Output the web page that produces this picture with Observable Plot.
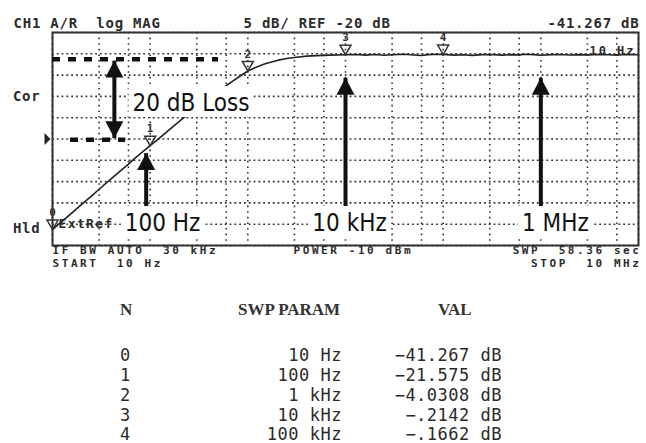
<!DOCTYPE html>
<html><head><meta charset="utf-8">
<script src="https://cdn.jsdelivr.net/npm/d3@7"></script>
<script src="https://cdn.jsdelivr.net/npm/@observablehq/plot@0.6"></script>
<style>
body{margin:0;background:#fff;width:646px;height:443px;overflow:hidden;}
#table{position:relative;width:646px;height:165px;color:#2a2a2a;}
#table span{position:absolute;line-height:20px;white-space:pre;}
#table .hdr{font-family:"Liberation Serif";font-weight:bold;font-size:17px;color:#333;}
#table .row{font-family:"DejaVu Sans Mono";font-size:17px;letter-spacing:0.5px;}
</style></head><body>
<div id="chart"></div>
<div id="table"></div>
<script>
// ---- trace ----
const traceFreq = [10,12,15,20,25,30,40,50,60,70,80,100,120,150,200,250,300,400,500,600,700,800,1000,1200,1500,2000,2500,3000,4000,5000,7000,10000,
  13000,16000,20000,25000,30000,40000,50000,60000,70000,85000,100000,130000,160000,200000,250000,300000,400000,500000,600000,700000,850000,
  1e6,1.3e6,1.6e6,2e6,2.5e6,3e6,4e6,5e6,6e6,7e6,8.5e6,1e7];
const traceDb = [-41.27,-39.7,-37.8,-35.3,-33.4,-31.8,-29.3,-27.4,-25.9,-24.5,-23.4,-21.58,-20.1,-18.2,-15.8,-14.0,-12.6,-10.3,-8.7,-7.5,-6.4,-5.5,-4.03,-3.2,-2.35,-1.55,-1.1,-0.85,-0.55,-0.42,-0.3,-0.21,
  -0.18,-0.30,-0.15,-0.35,-0.22,-0.12,-0.28,-0.40,-0.20,-0.10,-0.17,-0.30,-0.22,-0.38,-0.20,-0.15,-0.32,-0.20,-0.25,-0.10,-0.20,
  -0.35,-0.20,-0.15,-0.28,-0.20,-0.25,-0.15,-0.22,-0.30,-0.18,-0.20,-0.22];

// ---- markers ----
const markerN = ["0","1","2","3","4"];
const markerFreq = [10,100,1000,10000,100000];
const markerVal = [-41.267,-21.575,-4.0308,-0.2142,-0.1662];
const markerParam = ["10 Hz","100 Hz","1 kHz","10 kHz","100 kHz"];
const markerValText = ["\u221241.267 dB","\u221221.575 dB","\u22124.0308 dB","\u2212.2142 dB","\u2212.1662 dB"];

// ---- grid ----
const gridFreqs = [10,30,60,100,300,600,1e3,3e3,6e3,1e4,3e4,6e4,1e5,3e5,6e5,1e6,3e6,6e6,1e7];
const gridDb = [-45,-40,-35,-30,-25,-20,-15,-10,-5,0,5];
const refLevel = -20;

// ---- annotations (data units) ----
const dashF1 = [10, 15.3], dashF2 = [501, 56], dashDb = [-1.3, -20.2];
const lossF = 43, lossTop = -1.6, lossBottom = -19.8;
const lossLabel = "20 dB Loss", lossLabelF = 262, lossLabelDb = -11.6;
const arrowF = [91, 1e4, 1e6];
const arrowTip = [-23.3, -5.6, -5.6];
const arrowBase = -37;
const arrowLabels = ["100 Hz", "10 kHz", "1 MHz"];
const arrowLabelF = [134, 1.1e4, 1.41e6];
const arrowLabelDb = -39.8;

// ---- instrument texts ----
const headerLeft = "CH1 A/R  log MAG", headerMid = "5 dB/ REF -20 dB", headerRight = "-41.267 dB";
const stimText = "10 Hz";
const foot1 = ["IF BW AUTO  30 kHz", "POWER -10 dBm", "SWP  58.36 sec"];
const foot2 = ["START  10 Hz", "STOP  10 MHz"];
const sideTexts = ["Cor", "Hld", "ExtRef"];
const tableHead = ["N", "SWP PARAM", "VAL"];

const trace = traceFreq.map((f,i)=>({f, db: traceDb[i]}));
const markers = markerN.map((n,i)=>({n, f: markerFreq[i], v: markerVal[i]}));
const dashes = dashDb.map((d,i)=>({f1: dashF1[i], f2: dashF2[i], db: d}));
const arrows = arrowF.map((f,i)=>({f, tip: arrowTip[i], label: arrowLabels[i], lf: arrowLabelF[i]}));

const nb = s => s.replace(/ /g, "\u00a0");
const inst = {fontFamily:"DejaVu Sans Mono", fontWeight:"bold", fontSize:14, fill:"#2b2b2b"};
const T = (str, opts) => Plot.text([nb(str)], {text: d=>d, ...inst, ...opts});
const annFont = {fontFamily:"'DejaVu Sans Condensed', 'DejaVu Sans', sans-serif", fontSize:24, fill:"#111"};

const headUp = {draw(c){c.moveTo(0,0);c.lineTo(9,17);c.lineTo(-9,17);c.closePath();}};
const headDown = {draw(c){c.moveTo(0,0);c.lineTo(9,-17);c.lineTo(-9,-17);c.closePath();}};
const markTri = {draw(c){c.moveTo(0,0);c.lineTo(5.5,-9.5);c.lineTo(-5.5,-9.5);c.closePath();}};
const refTri = {draw(c){c.moveTo(0,0);c.lineTo(-6,-6);c.lineTo(-6,6);c.closePath();}};

const chart = Plot.plot({
  width: 646, height: 278,
  marginTop: 32, marginLeft: 52, marginRight: 8, marginBottom: 33,
  style: {background: "white", overflow: "visible"},
  x: {type: "log", domain: [10, 1e7], axis: null},
  y: {domain: [-45, 5], axis: null},
  marks: [
    Plot.ruleX(gridFreqs, {stroke:"#333", strokeWidth:1.6, strokeDasharray:"1.6,4"}),
    Plot.ruleY(gridDb, {stroke:"#333", strokeWidth:1.6, strokeDasharray:"1.8,3"}),
    Plot.line(trace, {x:"f", y:"db", stroke:"#222", strokeWidth:1.6}),
    Plot.dot(markers, {x:"f", y:"v", symbol: markTri, fill:"none", stroke:"#333", strokeWidth:1.5, r:5}),
    Plot.text(markers, {x:"f", y:"v", text:"n", dy:-17, fontFamily:"DejaVu Sans Mono", fontWeight:"bold", fontSize:11, fill:"#333"}),
    Plot.frame({stroke:"#333", strokeWidth:2}),
    Plot.dot([refLevel], {x: ()=>10, y: d=>d, dx:-2, symbol: refTri, fill:"#222", stroke:"none", r:5}),
    // annotations
    Plot.ruleY(dashes, {y:"db", x1:"f1", x2:"f2", stroke:"#111", strokeWidth:4.5, strokeDasharray:"8,8"}),
    Plot.link([0], {x1: ()=>lossF, x2: ()=>lossF, y1: ()=>lossTop, y2: ()=>lossBottom, stroke:"#111", strokeWidth:4}),
    Plot.dot([lossTop], {x: ()=>lossF, y: d=>d, symbol: headUp, fill:"#111", stroke:"none", r:5}),
    Plot.dot([lossBottom], {x: ()=>lossF, y: d=>d, symbol: headDown, fill:"#111", stroke:"none", r:5}),
    Plot.link(arrows, {x1:"f", x2:"f", y1: ()=>arrowBase, y2:"tip", stroke:"#111", strokeWidth:4}),
    Plot.dot(arrows, {x:"f", y:"tip", symbol: headUp, fill:"#111", stroke:"none", r:5}),
    Plot.text([lossLabel], {x: ()=>lossLabelF, y: ()=>lossLabelDb, text: d=>d, ...annFont}),
    Plot.text(arrows, {x:"lf", y: ()=>arrowLabelDb, text:"label", ...annFont}),
    // instrument texts
    T(headerLeft, {frameAnchor:"top-left", dx:-39, dy:-14, textAnchor:"start"}),
    T(headerMid, {frameAnchor:"top-left", dx:191, dy:-14, textAnchor:"start"}),
    T(headerRight, {frameAnchor:"top-right", dx:1, dy:-14, textAnchor:"end"}),
    T(stimText, {frameAnchor:"top-right", dx:-3, dy:14, textAnchor:"end", fontSize:12}),
    T(foot1[0], {frameAnchor:"bottom-left", dx:0, dy:8, textAnchor:"start", fontSize:11}),
    T(foot1[1], {frameAnchor:"bottom-left", dx:241, dy:8, textAnchor:"start", fontSize:11}),
    T(foot1[2], {frameAnchor:"bottom-right", dx:3, dy:8, textAnchor:"end", fontSize:11}),
    T(foot2[0], {frameAnchor:"bottom-left", dx:0, dy:21, textAnchor:"start", fontSize:11}),
    T(foot2[1], {frameAnchor:"bottom-right", dx:3, dy:21, textAnchor:"end", fontSize:11}),
    Plot.text([sideTexts[0]], {y: ()=>-10, text: d=>d, frameAnchor:"left", dx:-12, textAnchor:"end", ...inst}),
    T(sideTexts[1], {frameAnchor:"bottom-left", dx:-12, dy:-13, textAnchor:"end"}),
    T(sideTexts[2], {frameAnchor:"bottom-left", dx:6, dy:-18, textAnchor:"start", fontSize:13})
  ]
});
document.getElementById("chart").appendChild(chart);

// instrument font: fixed 9.2px character pitch
chart.querySelectorAll("text").forEach(t => {
  const cs = getComputedStyle(t);
  if (cs.fontFamily.includes("Mono") && t.textContent.length > 1) {
    t.style.letterSpacing = (9.2 - 0.602 * parseFloat(cs.fontSize)).toFixed(2) + "px";
  }
});
// white boxes behind the annotation labels
const NS = "http://www.w3.org/2000/svg";
chart.querySelectorAll("text").forEach(t => {
  if (parseFloat(getComputedStyle(t).fontSize) === 24) {
    const b = t.getBBox();
    const r = document.createElementNS(NS, "rect");
    r.setAttribute("x", b.x - 4); r.setAttribute("y", b.y - 3);
    r.setAttribute("width", b.width + 8); r.setAttribute("height", b.height + 3);
    r.setAttribute("fill", "white");
    const tr = t.getAttribute("transform");
    if (tr) r.setAttribute("transform", tr);
    t.parentNode.insertBefore(r, t);
  }
});
chart.querySelectorAll("rect[fill='white']").forEach(r => { const t = r.nextSibling; if (t) r.parentNode.appendChild(t); });

// ---- table ----
const tbl = document.getElementById("table");
function span(cls, text, style){ const s = document.createElement("span"); s.className = cls; s.textContent = text; Object.assign(s.style, style); tbl.appendChild(s); }
span("hdr", tableHead[0], {left:"120px", top:"22px"});
span("hdr", tableHead[1], {left:"238px", top:"22px"});
span("hdr", tableHead[2], {left:"438px", top:"22px"});
const rowTops = [67, 87, 107, 127, 146];
markerN.forEach((n,i)=>{
  span("row", n, {left:"120px", top: rowTops[i]+"px"});
  span("row", markerParam[i], {right:"304px", top: rowTops[i]+"px"});
  span("row", markerValText[i], {right:"144px", top: rowTops[i]+"px"});
});
</script>
</body></html>
